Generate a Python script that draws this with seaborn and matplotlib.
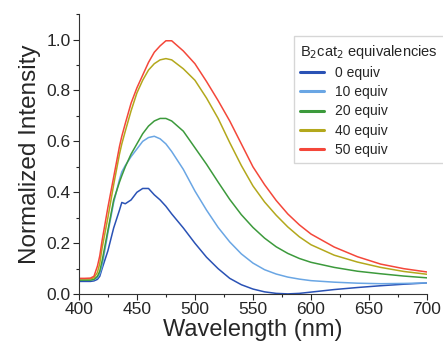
import pandas as pd
import matplotlib.pyplot as plt
import seaborn as sns
from matplotlib.ticker import MultipleLocator

# emission spectra (normalized intensity)
wavelength = [400, 405, 410, 413, 416, 418, 420, 425, 430, 435, 437, 440, 445, 450, 455,
              460, 465, 470, 475, 480, 490, 500, 510, 520, 530, 540, 550, 560,
              570, 580, 590, 600, 620, 640, 660, 680, 700]

equiv_0 = [0.050, 0.050, 0.050, 0.052, 0.058, 0.070, 0.100, 0.170, 0.260, 0.330, 0.360, 0.355, 0.370, 0.400, 0.415,
           0.415, 0.390, 0.370, 0.345, 0.315, 0.260, 0.200, 0.145, 0.100, 0.062, 0.037, 0.020, 0.009,
           0.003, 0.001, 0.003, 0.008, 0.018, 0.026, 0.033, 0.039, 0.044]
equiv_10 = [0.055, 0.055, 0.055, 0.057, 0.065, 0.080, 0.110, 0.240, 0.360, 0.450, 0.480, 0.505, 0.540, 0.570, 0.600,
            0.615, 0.620, 0.610, 0.590, 0.560, 0.490, 0.405, 0.330, 0.262, 0.205, 0.158, 0.122, 0.096,
            0.079, 0.067, 0.059, 0.053, 0.047, 0.043, 0.041, 0.042, 0.044]
equiv_20 = [0.055, 0.055, 0.055, 0.058, 0.070, 0.090, 0.130, 0.250, 0.370, 0.440, 0.465, 0.500, 0.550, 0.590, 0.630,
            0.660, 0.680, 0.690, 0.690, 0.680, 0.640, 0.575, 0.510, 0.440, 0.372, 0.312, 0.262, 0.220,
            0.186, 0.160, 0.140, 0.125, 0.105, 0.090, 0.080, 0.071, 0.064]
equiv_40 = [0.060, 0.060, 0.060, 0.064, 0.085, 0.120, 0.180, 0.300, 0.430, 0.550, 0.590, 0.640, 0.720, 0.790, 0.840,
            0.880, 0.905, 0.920, 0.925, 0.920, 0.885, 0.840, 0.770, 0.690, 0.595, 0.505, 0.425, 0.362,
            0.310, 0.264, 0.225, 0.194, 0.153, 0.126, 0.105, 0.089, 0.078]
equiv_50 = [0.062, 0.062, 0.063, 0.070, 0.110, 0.150, 0.210, 0.340, 0.460, 0.580, 0.620, 0.670, 0.750, 0.810, 0.860,
            0.910, 0.950, 0.975, 0.995, 0.995, 0.955, 0.905, 0.835, 0.760, 0.680, 0.590, 0.500, 0.430,
            0.368, 0.315, 0.272, 0.236, 0.185, 0.147, 0.118, 0.100, 0.087]

labels = ['0 equiv', '10 equiv', '20 equiv', '40 equiv', '50 equiv']
colors = ['#2a52b5', '#6aa6e4', '#3c9a3c', '#b3a81c', '#f4473a']

series = [equiv_0, equiv_10, equiv_20, equiv_40, equiv_50]
df = pd.concat([pd.DataFrame({'Wavelength': wavelength, 'Intensity': s, 'Sample': lab})
                for s, lab in zip(series, labels)], ignore_index=True)

sns.set_style('ticks')
plt.rcParams['font.family'] = ['Liberation Sans', 'DejaVu Sans']

fig = plt.figure(figsize=(4.43, 3.51), dpi=100)
ax = fig.add_axes([0.178, 0.162, 0.786, 0.798])

sns.lineplot(data=df, x='Wavelength', y='Intensity', hue='Sample', palette=colors,
             linewidth=1.1, sort=False, ax=ax)

ax.set_xlim(400, 700)
ax.set_ylim(0, 1.1)
ax.xaxis.set_major_locator(MultipleLocator(50))
ax.xaxis.set_minor_locator(MultipleLocator(25))
ax.yaxis.set_major_locator(MultipleLocator(0.2))
ax.yaxis.set_minor_locator(MultipleLocator(0.1))
ax.tick_params(which='major', length=4, width=0.8, labelsize=12.5, pad=2)
ax.tick_params(which='minor', length=2.5, width=0.8)
sns.despine(ax=ax)
for sp in ['left', 'bottom']:
    ax.spines[sp].set_linewidth(0.8)
    ax.spines[sp].set_color('#333333')

ax.set_xlabel('Wavelength (nm)', fontsize=17, labelpad=1)
ax.set_ylabel('Normalized Intensity', fontsize=17.5, labelpad=4)

leg = ax.legend(title='B$_2$cat$_2$ equivalencies', loc='upper left',
                bbox_to_anchor=(0.598, 0.945), fontsize=10, title_fontsize=10.5,
                frameon=True, fancybox=False, edgecolor='#cccccc',
                handlelength=1.7, labelspacing=0.38, borderpad=0.45)
leg._legend_box.align = 'left'
for line in leg.get_lines():
    line.set_linewidth(2.2)

fig.savefig('out.png', dpi=100)
